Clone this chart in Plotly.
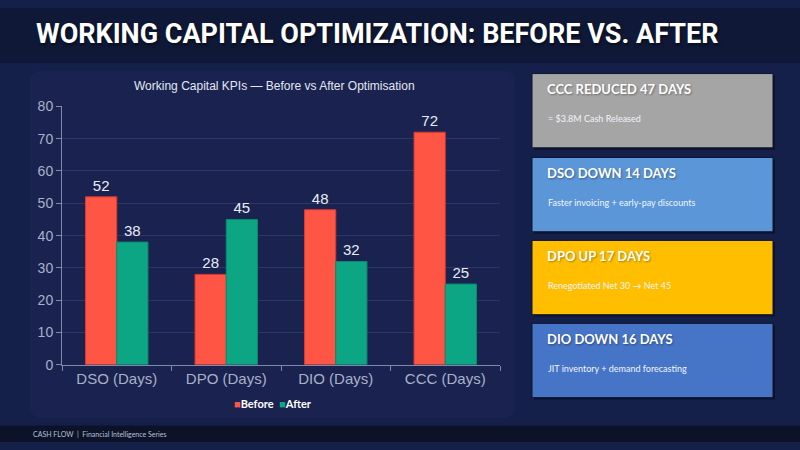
import plotly.graph_objects as go

# data
categories = ["DSO (Days)", "DPO (Days)", "DIO (Days)", "CCC (Days)"]
before = [52, 28, 48, 72]
after = [38, 45, 32, 25]

card_titles = ["CCC REDUCED 47 DAYS", "DSO DOWN 14 DAYS", "DPO UP 17 DAYS", "DIO DOWN 16 DAYS"]
card_notes = ["= $3.8M Cash Released", "Faster invoicing + early-pay discounts",
              "Renegotiated Net 30 \u2192 Net 45", "JIT inventory + demand forecasting"]
card_colors = ["#a5a5a5", "#5a96d8", "#ffbf00", "#4674c6"]

before_color = "#ff5544"
after_color = "#0da684"

W, H = 800, 450


def px_x(x):
    return x / W


def px_y(y):
    return 1 - y / H


fig = go.Figure()
fig.add_trace(go.Bar(x=categories, y=before, name="Before", marker_color=before_color,
                     marker_line=dict(color="#d83a30", width=1),
                     text=before, textposition="outside",
                     textfont=dict(color="#e8ecf6", size=15, family="Liberation Sans, Arial")))
fig.add_trace(go.Bar(x=categories, y=after, name="After", marker_color=after_color,
                     marker_line=dict(color="#0a8a6e", width=1),
                     text=after, textposition="outside",
                     textfont=dict(color="#e8ecf6", size=15, family="Liberation Sans, Arial")))

shapes = []
# page background bands
shapes.append(dict(type="rect", xref="paper", yref="paper", x0=0, x1=1, y0=px_y(57), y1=1,
                   fillcolor="#0f1836", line_width=0, layer="below"))
shapes.append(dict(type="rect", xref="paper", yref="paper", x0=0, x1=1, y0=0, y1=px_y(433),
                   fillcolor="#0c1329", line_width=0, layer="below"))

# chart panel, rounded corners
x0, x1, y0, y1, r = 30, 515, 65, 425, 12
path = (f"M {px_x(x0 + r)},{px_y(y0)} L {px_x(x1 - r)},{px_y(y0)} "
        f"Q {px_x(x1)},{px_y(y0)} {px_x(x1)},{px_y(y0 + r)} "
        f"L {px_x(x1)},{px_y(y1 - r)} Q {px_x(x1)},{px_y(y1)} {px_x(x1 - r)},{px_y(y1)} "
        f"L {px_x(x0 + r)},{px_y(y1)} Q {px_x(x0)},{px_y(y1)} {px_x(x0)},{px_y(y1 - r)} "
        f"L {px_x(x0)},{px_y(y0 + r)} Q {px_x(x0)},{px_y(y0)} {px_x(x0 + r)},{px_y(y0)} Z")
shapes.append(dict(type="path", xref="paper", yref="paper", path=path,
                   fillcolor="#1a2350", line_width=0, layer="below"))

annotations = []
# cards
card_tops = [68, 155, 241, 327]
for i, top in enumerate(card_tops):
    shapes.append(dict(type="rect", xref="paper", yref="paper",
                       x0=px_x(534), x1=px_x(775), y0=px_y(top + 79), y1=px_y(top + 2),
                       fillcolor="#060c1e", line_width=0, opacity=0.6))
    shapes.append(dict(type="rect", xref="paper", yref="paper",
                       x0=px_x(532), x1=px_x(773), y0=px_y(top + 77), y1=px_y(top),
                       fillcolor=card_colors[i], line=dict(color="#0d1530", width=1)))
    annotations.append(dict(text=f"<b>{card_titles[i]}</b>", xref="paper", yref="paper",
                            x=px_x(545), y=px_y(top + 16), xanchor="left", yanchor="middle",
                            showarrow=False,
                            font=dict(family="Lato, Open Sans, sans-serif", size=13, color="#ffffff",
                                      shadow="1px 1px 2px rgba(0,0,0,0.35)")))
    annotations.append(dict(text=card_notes[i], xref="paper", yref="paper",
                            x=px_x(546), y=px_y(top + 47), xanchor="left", yanchor="middle",
                            showarrow=False,
                            font=dict(family="Lato, Open Sans, sans-serif", size=9, color="#f2f4f8")))

# page title
annotations.append(dict(text="<b>WORKING CAPITAL OPTIMIZATION: BEFORE VS. AFTER</b>",
                        xref="paper", yref="paper", x=px_x(34), y=px_y(27),
                        xanchor="left", yanchor="middle", showarrow=False,
                        font=dict(family="Roboto, sans-serif", size=27, color="#ffffff",
                                  shadow="1px 2px 3px rgba(0,0,0,0.5)")))
# chart title
annotations.append(dict(text="Working Capital KPIs \u2014 Before vs After Optimisation",
                        xref="paper", yref="paper", x=px_x(274), y=px_y(81),
                        xanchor="center", yanchor="middle", showarrow=False,
                        font=dict(family="Liberation Sans, Arial", size=12, color="#e3e7f2")))
# legend drawn as text so the swatches stay small
annotations.append(dict(text=(f"<span style='color:{before_color}'>\u25a0</span><b>Before</b>  "
                              f"<span style='color:{after_color}'>\u25a0</span><b>After</b>"),
                        xref="paper", yref="paper", x=px_x(273), y=px_y(410),
                        xanchor="center", yanchor="middle", showarrow=False,
                        font=dict(family="Lato, sans-serif", size=11, color="#ffffff")))
# footer
annotations.append(dict(text="CASH FLOW  |  Financial Intelligence Series",
                        xref="paper", yref="paper", x=px_x(31), y=px_y(442),
                        xanchor="left", yanchor="middle", showarrow=False,
                        font=dict(family="Lato, sans-serif", size=7, color="#b8c0d4")))

fig.update_layout(
    width=W, height=H,
    margin=dict(l=0, r=0, t=0, b=0),
    paper_bgcolor="#14204a",
    plot_bgcolor="#1a2350",
    barmode="group",
    bargap=0.43,
    bargroupgap=0,
    showlegend=False,
    xaxis=dict(domain=[px_x(62), px_x(500)], showgrid=False,
               showline=True, linecolor="#7f89aa", linewidth=1,
               ticks="outside", ticklen=5, tickcolor="#7f89aa", tickson="boundaries",
               tickfont=dict(family="Liberation Sans, Arial", size=15, color="#a9b1c8")),
    yaxis=dict(domain=[px_y(370), px_y(102)], range=[0, 80], dtick=10,
               showgrid=True, gridcolor="#2c3766", gridwidth=1, zeroline=False,
               showline=True, linecolor="#7f89aa", linewidth=1,
               ticks="outside", ticklen=5, tickcolor="#7f89aa",
               tickfont=dict(family="Liberation Sans, Arial", size=14, color="#a9b1c8")),
    shapes=shapes,
    annotations=annotations,
)

fig.write_html("out.html", config={"displayModeBar": False},
               post_script="document.body.style.margin='0';document.body.style.overflow='hidden';")
